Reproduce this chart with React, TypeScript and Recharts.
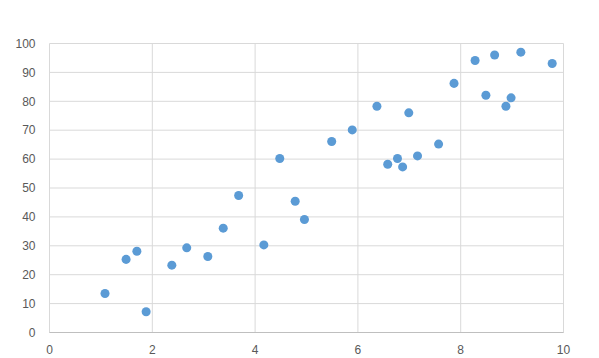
import React from 'react';
import { ScatterChart, Scatter, XAxis, YAxis, ZAxis, CartesianGrid } from 'recharts';

// values
const xValues = [
  1.08, 1.49, 1.7, 1.88, 2.38, 2.67, 3.08, 3.38, 3.68, 4.17,
  4.48, 4.78, 4.96, 5.49, 5.89, 6.37, 6.58, 6.77, 6.87, 6.99,
  7.16, 7.57, 7.87, 8.28, 8.49, 8.66, 8.88, 8.98, 9.17, 9.78,
];
const yValues = [
  13.5, 25.3, 28.1, 7.2, 23.3, 29.3, 26.3, 36.1, 47.4, 30.3,
  60.2, 45.4, 39.1, 66.1, 70.1, 78.3, 58.2, 60.2, 57.3, 76.0,
  61.1, 65.2, 86.2, 94.1, 82.1, 96.0, 78.3, 81.2, 97.0, 93.1,
];
const xTicks = [0, 2, 4, 6, 8, 10];
const yTicks = [0, 10, 20, 30, 40, 50, 60, 70, 80, 90, 100];

const points = xValues.map((x, i) => ({ x, y: yValues[i] }));

const tickStyle = { fill: '#595959', fontSize: 12, fontFamily: 'Liberation Sans, Arial, sans-serif' };

const App: React.FC = () => {
  return (
    <div style={{ position: 'absolute', left: 0, top: 0, width: 599, height: 358, background: '#fff' }}>
      <ScatterChart width={599} height={358} margin={{ top: 43.5, right: 35.5, bottom: 0, left: 0 }}>
        <CartesianGrid stroke="#d9d9d9" />
        <XAxis
          type="number"
          dataKey="x"
          domain={[0, 10]}
          ticks={xTicks}
          height={25.5}
          tickLine={false}
          tickMargin={7}
          axisLine={{ stroke: '#bfbfbf' }}
          tick={tickStyle}
        />
        <YAxis
          type="number"
          dataKey="y"
          domain={[0, 100]}
          ticks={yTicks}
          width={49.5}
          tickLine={false}
          tickMargin={8}
          axisLine={false}
          tick={tickStyle}
        />
        <ZAxis range={[64, 64]} />
        <Scatter data={points} fill="#5b9bd5" isAnimationActive={false} />
      </ScatterChart>
    </div>
  );
};

export default App;
